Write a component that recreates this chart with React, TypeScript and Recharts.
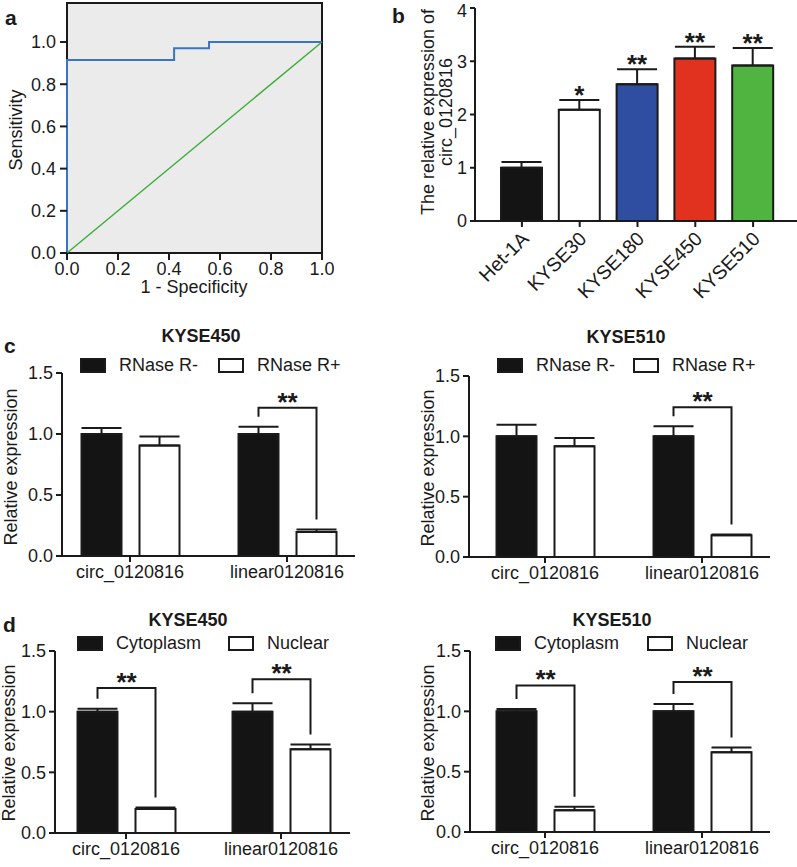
import React from "react"
import {
  LineChart,
  Line,
  BarChart,
  Bar,
  XAxis,
  YAxis,
  ReferenceArea,
  ErrorBar,
  Cell,
  LabelList,
  Legend,
} from "recharts"

const FONT = '"Liberation Sans", Arial, Helvetica, sans-serif'
const INK = "#1a1a1a"

// a - ROC curve
const rocFpr = [0, 0, 0.42, 0.557, 1]
const rocTpr = [0, 0.915, 0.97, 1, 1]
const diagFpr = [0, 1]
const diagTpr = [0, 1]
const rocTicks = [0, 0.2, 0.4, 0.6, 0.8, 1.0]

// b - expression across cell lines
const cellLines = ["Het-1A", "KYSE30", "KYSE180", "KYSE450", "KYSE510"]
const cellExpr = [1.0, 2.09, 2.57, 3.05, 2.92]
const cellErr = [0.11, 0.18, 0.28, 0.22, 0.33]
const cellStars = ["", "*", "**", "**", "**"]
const cellColors = ["#141414", "#ffffff", "#2f4ea2", "#e1321f", "#50b440"]
const exprTicks = [0, 1, 2, 3, 4]

// c / d - shared categories
const genes = ["circ_0120816", "linear0120816"]
const relTicks = [0, 0.5, 1.0, 1.5]

// c - RNase R
const rnaseMinus450 = [1.0, 1.0]
const rnaseMinus450Err = [0.05, 0.06]
const rnasePlus450 = [0.905, 0.197]
const rnasePlus450Err = [0.075, 0.02]
const rnaseBracket450 = [null, 1.215]
const rnaseStars450 = ["", "**"]

const rnaseMinus510 = [1.0, 1.0]
const rnaseMinus510Err = [0.097, 0.083]
const rnasePlus510 = [0.917, 0.18]
const rnasePlus510Err = [0.07, 0.006]
const rnaseBracket510 = [null, 1.24]
const rnaseStars510 = ["", "**"]

// d - fractionation
const cyto450 = [1.0, 1.0]
const cyto450Err = [0.025, 0.07]
const nuc450 = [0.198, 0.69]
const nuc450Err = [0.012, 0.04]
const fracBracket450 = [1.196, 1.267]
const fracStars450 = ["**", "**"]

const cyto510 = [1.0, 1.0]
const cyto510Err = [0.02, 0.06]
const nuc510 = [0.18, 0.66]
const nuc510Err = [0.03, 0.04]
const fracBracket510 = [1.215, 1.243]
const fracStars510 = ["**", "**"]

const BAR_SIZE = 40
const BAR_GAP = 18
const STAR_SIZE = 26

const rocData = rocFpr.map((x, i) => ({ x, y: rocTpr[i] }))
const diagData = diagFpr.map((x, i) => ({ x, y: diagTpr[i] }))
const cellData = cellLines.map((name, i) => ({ name, expr: cellExpr[i], err: [0, cellErr[i]] }))

const tickStyle = { fill: INK, fontSize: 18, fontFamily: FONT }
const inkLine = { stroke: INK, strokeWidth: 2 }
const starStyle = { fontSize: STAR_SIZE, fontWeight: 700, fontFamily: FONT, fill: INK }

function rectOf(props: any) {
  const vb = props.viewBox && props.viewBox.width !== undefined ? props.viewBox : props
  return { x: Number(vb.x), y: Number(vb.y), width: Number(vb.width), height: Number(vb.height) }
}

function SlantTick({ x, y, payload }: any) {
  const ox = x + 8
  const oy = y + 11
  return (
    <text x={ox} y={oy} textAnchor="end" transform={`rotate(-45, ${ox}, ${oy})`} {...tickStyle} fontSize={19.5}>
      {payload.value}
    </text>
  )
}

function makeStarLabel(vals: number[], errs: number[], stars: string[]) {
  return (props: any) => {
    const i = props.index
    if (!stars[i]) return null
    const r = rectOf(props)
    const k = r.height / vals[i]
    const base = r.y + r.height
    const errTop = base - (vals[i] + errs[i]) * k
    return (
      <text x={r.x + r.width / 2} y={errTop + 4} textAnchor="middle" {...starStyle}>
        {stars[i]}
      </text>
    )
  }
}

function makeBracket(
  aVals: number[],
  aErrs: number[],
  bVals: number[],
  bErrs: number[],
  tops: (number | null)[],
  stars: string[]
) {
  return (props: any) => {
    const i = props.index
    const top = tops[i]
    if (top == null) return null
    const r = rectOf(props)
    const k = r.height / bVals[i]
    const base = r.y + r.height
    const cxB = r.x + r.width / 2
    const cxA = cxB - (BAR_SIZE + BAR_GAP)
    const yTop = base - top * k
    const yA = base - (aVals[i] + aErrs[i]) * k - 10
    const yB = base - (bVals[i] + bErrs[i]) * k - 10
    return (
      <g>
        <path d={`M${cxA},${yA}V${yTop}H${cxB}V${yB}`} fill="none" stroke={INK} strokeWidth={2} />
        <text x={(cxA + cxB) / 2} y={yTop + 3} textAnchor="middle" {...starStyle}>
          {stars[i]}
        </text>
      </g>
    )
  }
}

function makeLegend(itemWidth: number, order: string[]) {
  return ({ payload }: any) => {
    const items = [...(payload || [])].sort((a: any, b: any) => order.indexOf(a.value) - order.indexOf(b.value))
    return (
      <div style={{ display: "flex", alignItems: "center", height: 20, fontFamily: FONT, fontSize: 18, color: INK }}>
        {items.map((p: any) => (
          <div key={p.value} style={{ display: "flex", alignItems: "center", width: itemWidth, whiteSpace: "nowrap" }}>
            <span
              style={{
                display: "inline-block",
                width: 26,
                height: 15,
                marginRight: 13,
                background: p.color,
                border: `2px solid ${INK}`,
                boxSizing: "border-box",
              }}
            />
            <span>{p.value}</span>
          </div>
        ))}
      </div>
    )
  }
}

type RelProps = {
  left: number
  top: number
  width: number
  height: number
  margin: { top: number; right: number; bottom: number; left: number }
  yWidth: number
  xHeight: number
  pad: { left: number; right: number }
  names: string[]
  aVals: number[]
  aErrs: number[]
  bVals: number[]
  bErrs: number[]
  tops: (number | null)[]
  stars: string[]
  legendLeft: number
  legendTop: number
  itemWidth: number
}

function RelChart(p: RelProps) {
  const data = genes.map((gene, i) => ({
    gene,
    a: p.aVals[i],
    aErr: [0, p.aErrs[i]],
    b: p.bVals[i],
    bErr: [0, p.bErrs[i]],
  }))
  return (
    <div style={{ position: "absolute", left: p.left, top: p.top }}>
      <BarChart width={p.width} height={p.height} data={data} margin={p.margin} barGap={BAR_GAP} barSize={BAR_SIZE}>
        <XAxis
          dataKey="gene"
          height={p.xHeight}
          padding={p.pad}
          axisLine={inkLine}
          tickLine={inkLine}
          tickSize={6}
          tickMargin={3}
          tick={tickStyle}
          interval={0}
        />
        <YAxis
          width={p.yWidth}
          domain={[0, 1.5]}
          ticks={relTicks}
          tickFormatter={(v: number) => v.toFixed(1)}
          axisLine={inkLine}
          tickLine={inkLine}
          tickSize={6}
          tickMargin={3}
          tick={tickStyle}
        />
        <Legend
          verticalAlign="middle"
          align="center"
          layout="horizontal"
          content={makeLegend(p.itemWidth, p.names)}
          wrapperStyle={{ left: p.legendLeft, top: p.legendTop, width: "auto", height: 20 }}
        />
        <Bar dataKey="a" name={p.names[0]} fill="#141414" stroke={INK} strokeWidth={2} isAnimationActive={false}>
          <ErrorBar dataKey="aErr" width={20} stroke={INK} strokeWidth={2} direction="y" isAnimationActive={false} />
        </Bar>
        <Bar dataKey="b" name={p.names[1]} fill="#ffffff" stroke={INK} strokeWidth={2} isAnimationActive={false}>
          <ErrorBar dataKey="bErr" width={20} stroke={INK} strokeWidth={2} direction="y" isAnimationActive={false} />
          <LabelList dataKey="b" content={makeBracket(p.aVals, p.aErrs, p.bVals, p.bErrs, p.tops, p.stars)} />
        </Bar>
      </BarChart>
    </div>
  )
}

function Texts() {
  const t = { fontFamily: FONT, fill: INK, fontSize: 18, dominantBaseline: "central" as const }
  const letter = { ...t, fontSize: 21, fontWeight: 700 }
  const title = { ...t, fontWeight: 700, textAnchor: "middle" as const }
  const rot = (x: number, y: number, s: string) => (
    <text x={x} y={y} {...t} textAnchor="middle" transform={`rotate(-90, ${x}, ${y})`}>
      {s}
    </text>
  )
  return (
    <svg width={797} height={867} style={{ position: "absolute", left: 0, top: 0, pointerEvents: "none" }}>
      <text x={5} y={17} {...letter}>a</text>
      <text x={392} y={15} {...letter}>b</text>
      <text x={4} y={345} {...letter}>c</text>
      <text x={3} y={624} {...letter}>d</text>
      {rot(16, 130, "Sensitivity")}
      <text x={194} y={287} {...t} textAnchor="middle">1 - Specificity</text>
      {rot(428, 112, "The relative expression of")}
      {rot(446, 112, "circ_0120816")}
      <text x={201} y={336} {...title}>KYSE450</text>
      <text x={626} y={337} {...title}>KYSE510</text>
      <text x={188} y={620} {...title}>KYSE450</text>
      <text x={612} y={620} {...title}>KYSE510</text>
      {rot(11, 467, "Relative expression")}
      {rot(428, 468, "Relative expression")}
      {rot(9, 743, "Relative expression")}
      {rot(428, 743, "Relative expression")}
    </svg>
  )
}

export default function App() {
  return (
    <div style={{ position: "absolute", left: 0, top: 0, width: 797, height: 867, background: "#fff", fontFamily: FONT }}>
      {/* a */}
      <div style={{ position: "absolute", left: 0, top: 0 }}>
        <LineChart width={400} height={300} margin={{ top: 3, right: 78, bottom: 0, left: 0 }}>
          <XAxis
            type="number"
            dataKey="x"
            domain={[0, 1]}
            ticks={rocTicks}
            tickFormatter={(v: number) => v.toFixed(1)}
            height={47}
            axisLine={false}
            tickLine={inkLine}
            tickSize={7}
            tickMargin={2}
            tick={tickStyle}
          />
          <YAxis
            type="number"
            dataKey="y"
            domain={[0, 1.185]}
            ticks={rocTicks}
            tickFormatter={(v: number) => v.toFixed(1)}
            width={67}
            axisLine={false}
            tickLine={inkLine}
            tickSize={7}
            tickMargin={4}
            tick={tickStyle}
          />
          <ReferenceArea x1={0} x2={1} y1={0} y2={1.185} fill="#ebebeb" fillOpacity={1} stroke={INK} strokeWidth={2} />
          <Line data={diagData} dataKey="y" type="linear" stroke="#3fae3a" strokeWidth={1.5} dot={false} activeDot={false} isAnimationActive={false} />
          <Line data={rocData} dataKey="y" type="stepAfter" stroke="#3a74c2" strokeWidth={2} dot={false} activeDot={false} isAnimationActive={false} />
        </LineChart>
      </div>

      {/* b */}
      <div style={{ position: "absolute", left: 400, top: 0 }}>
        <BarChart width={397} height={322} data={cellData} margin={{ top: 8, right: 0, bottom: 0, left: 0 }} barSize={41}>
          <XAxis
            dataKey="name"
            height={101}
            padding={{ left: 18, right: 15 }}
            axisLine={inkLine}
            tickLine={inkLine}
            tickSize={6}
            tickMargin={2}
            tick={<SlantTick />}
            interval={0}
          />
          <YAxis
            width={75}
            domain={[0, 4]}
            ticks={exprTicks}
            axisLine={inkLine}
            tickLine={inkLine}
            tickSize={5}
            tickMargin={3}
            tick={tickStyle}
          />
          <Bar dataKey="expr" stroke={INK} strokeWidth={2} isAnimationActive={false}>
            {cellData.map((d, i) => (
              <Cell key={d.name} fill={cellColors[i]} />
            ))}
            <ErrorBar dataKey="err" width={20} stroke={INK} strokeWidth={2} direction="y" isAnimationActive={false} />
            <LabelList dataKey="expr" content={makeStarLabel(cellExpr, cellErr, cellStars)} />
          </Bar>
        </BarChart>
      </div>

      {/* c */}
      <RelChart
        left={0}
        top={330}
        width={400}
        height={270}
        margin={{ top: 43, right: 45, bottom: 0, left: 0 }}
        yWidth={62}
        xHeight={44}
        pad={{ left: -10.5, right: -10.5 }}
        names={["RNase R-", "RNase R+"]}
        aVals={rnaseMinus450}
        aErrs={rnaseMinus450Err}
        bVals={rnasePlus450}
        bErrs={rnasePlus450Err}
        tops={rnaseBracket450}
        stars={rnaseStars450}
        legendLeft={80}
        legendTop={25}
        itemWidth={138}
      />
      <RelChart
        left={400}
        top={330}
        width={397}
        height={270}
        margin={{ top: 46, right: 27, bottom: 0, left: 0 }}
        yWidth={69}
        xHeight={43}
        pad={{ left: -2.5, right: -10.5 }}
        names={["RNase R-", "RNase R+"]}
        aVals={rnaseMinus510}
        aErrs={rnaseMinus510Err}
        bVals={rnasePlus510}
        bErrs={rnasePlus510Err}
        tops={rnaseBracket510}
        stars={rnaseStars510}
        legendLeft={97}
        legendTop={25}
        itemWidth={136}
      />

      {/* d */}
      <RelChart
        left={0}
        top={605}
        width={400}
        height={262}
        margin={{ top: 46, right: 50, bottom: 0, left: 0 }}
        yWidth={55}
        xHeight={34}
        pad={{ left: -6.5, right: -8.5 }}
        names={["Cytoplasm", "Nuclear"]}
        aVals={cyto450}
        aErrs={cyto450Err}
        bVals={nuc450}
        bErrs={nuc450Err}
        tops={fracBracket450}
        stars={fracStars450}
        legendLeft={77}
        legendTop={28}
        itemWidth={151}
      />
      <RelChart
        left={400}
        top={605}
        width={397}
        height={262}
        margin={{ top: 46, right: 27, bottom: 0, left: 0 }}
        yWidth={70}
        xHeight={35}
        pad={{ left: -3.5, right: -10.5 }}
        names={["Cytoplasm", "Nuclear"]}
        aVals={cyto510}
        aErrs={cyto510Err}
        bVals={nuc510}
        bErrs={nuc510Err}
        tops={fracBracket510}
        stars={fracStars510}
        legendLeft={95}
        legendTop={28}
        itemWidth={152}
      />

      <Texts />
    </div>
  )
}
